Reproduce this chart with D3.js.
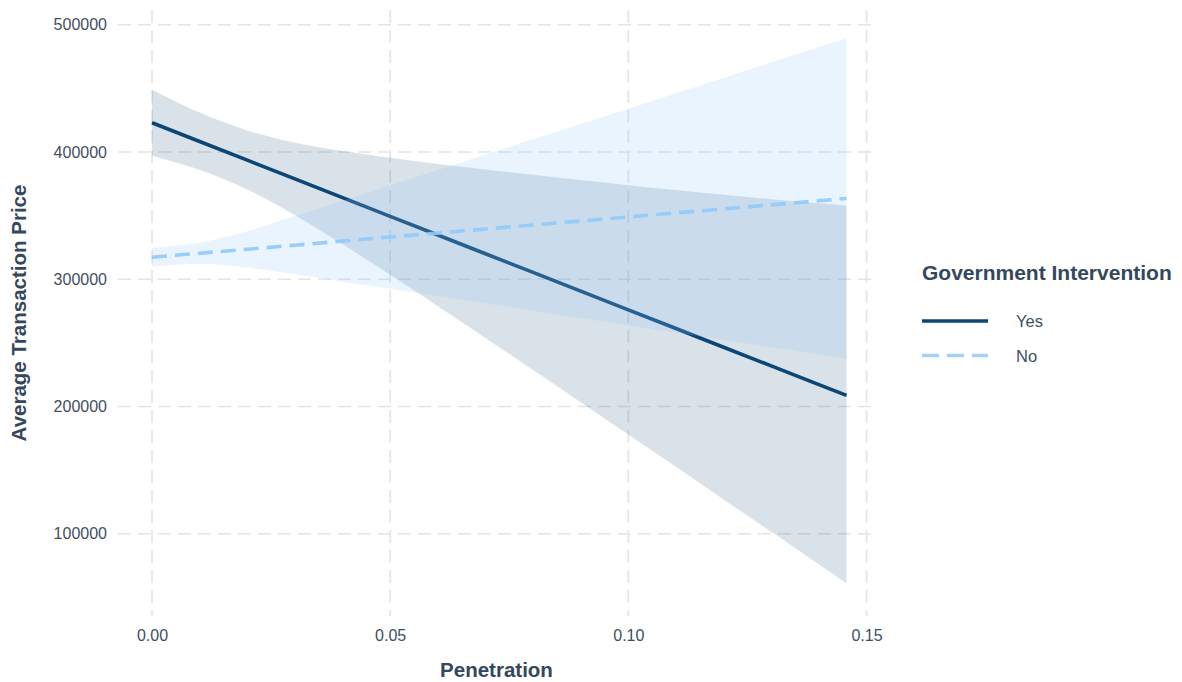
<!DOCTYPE html>
<html>
<head>
<meta charset="utf-8">
<script src="https://cdn.jsdelivr.net/npm/d3@7"></script>
<style>
  html, body { margin: 0; padding: 0; background: #ffffff; }
  svg { display: block; font-family: "Liberation Sans", Arial, Helvetica, sans-serif; }
</style>
</head>
<body>
<svg id="chart" width="1182" height="682"></svg>
<script>
// ---------------- data ----------------
const penetration = [0, 0.01, 0.02, 0.03, 0.04, 0.05, 0.06, 0.07, 0.08, 0.09, 0.10, 0.11, 0.12, 0.13, 0.14, 0.1458];

const yesFit   = [423000, 408300, 393600, 378900, 364200, 349500, 334800, 320100, 305400, 290700, 276000, 261300, 246600, 231900, 217200, 208700];
const yesUpper = [449000, 431000, 417000, 407400, 400900, 395500, 390700, 386300, 382100, 378000, 374000, 370200, 366500, 363000, 359800, 358000];
const yesLower = [397000, 386000, 370500, 350400, 327500, 303500, 278900, 253900, 228700, 203400, 178000, 152600, 127000, 101500, 76000, 61000];

const noFit   = [317300, 320500, 323600, 326800, 330000, 333200, 336300, 339500, 342700, 345800, 349000, 352200, 355300, 358500, 361700, 363500];
const noUpper = [324800, 328800, 337800, 349700, 361800, 373800, 385800, 397900, 410000, 422000, 434100, 446200, 458300, 470400, 482500, 489500];
const noLower = [309800, 312200, 309300, 303900, 298100, 292500, 286800, 281100, 275300, 269600, 263900, 258100, 252400, 246600, 240900, 237500];

const xTicks = [0, 0.05, 0.10, 0.15];
const xTickLabels = ["0.00", "0.05", "0.10", "0.15"];
const yTicks = [100000, 200000, 300000, 400000, 500000];
const yTickLabels = ["100000", "200000", "300000", "400000", "500000"];

const groups = ["Yes", "No"];
const legendTitle = "Government Intervention";
const xTitle = "Penetration";
const yTitle = "Average Transaction Price";

// ---------------- layout / style ----------------
const panel = { left: 118, right: 875, top: 10, bottom: 616 };
const colors = { Yes: "#0b4677", No: "#90caf9" };
const textColor = "#3d4f63";
const titleColor = "#34475c";
const gridColor = "#e4e4e4";

const svg = d3.select("#chart");

const x = d3.scaleLinear().domain([0, 0.15]).range([152, 866.5]);
const y = d3.scaleLinear().domain([35350, 511650]).range([panel.bottom, panel.top]);

// grid lines
const grid = svg.append("g");
grid.selectAll("line.h").data(yTicks).enter().append("line")
  .attr("x1", panel.left).attr("x2", panel.right)
  .attr("y1", d => y(d)).attr("y2", d => y(d))
  .attr("stroke", gridColor).attr("stroke-width", 1.6)
  .attr("stroke-dasharray", "13,7");
grid.selectAll("line.v").data(xTicks).enter().append("line")
  .attr("y1", panel.top).attr("y2", panel.bottom)
  .attr("x1", d => x(d)).attr("x2", d => x(d))
  .attr("stroke", gridColor).attr("stroke-width", 1.6)
  .attr("stroke-dasharray", "13,7");

// axes (text only)
const xAxis = d3.axisBottom(x).tickValues(xTicks).tickFormat((d, i) => xTickLabels[i]).tickSize(0).tickPadding(0);
const gx = svg.append("g").attr("transform", `translate(0, ${panel.bottom + 14})`).call(xAxis);
gx.select(".domain").remove();
gx.selectAll("text").attr("fill", textColor).attr("font-size", 16)
  .attr("font-family", "Liberation Sans, Arial, sans-serif");

const yAxis = d3.axisLeft(y).tickValues(yTicks).tickFormat((d, i) => yTickLabels[i]).tickSize(0).tickPadding(0);
const gy = svg.append("g").attr("transform", `translate(${panel.left - 11}, 0)`).call(yAxis);
gy.select(".domain").remove();
gy.selectAll("text").attr("fill", textColor).attr("font-size", 16)
  .attr("font-family", "Liberation Sans, Arial, sans-serif");

// data series
const series = {
  Yes: penetration.map((p, i) => ({ p, fit: yesFit[i], lo: yesLower[i], hi: yesUpper[i] })),
  No:  penetration.map((p, i) => ({ p, fit: noFit[i],  lo: noLower[i],  hi: noUpper[i] }))
};

const area = d3.area().x(d => x(d.p)).y0(d => y(d.lo)).y1(d => y(d.hi)).curve(d3.curveCatmullRom);
const line = d3.line().x(d => x(d.p)).y(d => y(d.fit));

const plot = svg.append("g");
groups.forEach(g => {
  plot.append("path").datum(series[g]).attr("d", area)
    .attr("fill", g === "Yes" ? "#1d4f7c" : colors.No)
    .attr("fill-opacity", g === "Yes" ? 0.17 : 0.2);
  plot.append("path").datum(series[g]).attr("d", line)
    .attr("fill", "none")
    .attr("stroke", colors[g])
    .attr("stroke-opacity", g === "Yes" ? 1 : 0.9)
    .attr("stroke-width", 3.6)
    .attr("stroke-dasharray", g === "No" ? "15,8" : null);
});

// axis titles
svg.append("text").attr("x", (panel.left + panel.right) / 2).attr("y", 677)
  .attr("text-anchor", "middle").attr("font-weight", "bold").attr("font-size", 20.5)
  .attr("fill", titleColor).text(xTitle);
svg.append("text").attr("transform", `translate(26, ${(panel.top + panel.bottom) / 2}) rotate(-90)`)
  .attr("text-anchor", "middle").attr("font-weight", "bold").attr("font-size", 20.5)
  .attr("fill", titleColor).text(yTitle);

// legend
const lg = svg.append("g");
lg.append("text").attr("x", 922).attr("y", 280).attr("font-weight", "bold").attr("font-size", 21)
  .attr("fill", titleColor).text(legendTitle);
groups.forEach((g, i) => {
  const ly = 321 + i * 34.5;
  lg.append("line").attr("x1", 922).attr("x2", 988).attr("y1", ly).attr("y2", ly)
    .attr("stroke", g === "No" ? "#a3d2f9" : colors[g]).attr("stroke-width", 3.6)
    .attr("stroke-dasharray", g === "No" ? "17,8" : null);
  lg.append("text").attr("x", 1016).attr("y", ly + 6).attr("font-size", 16.5)
    .attr("fill", textColor).text(g);
});
</script>
</body>
</html>
